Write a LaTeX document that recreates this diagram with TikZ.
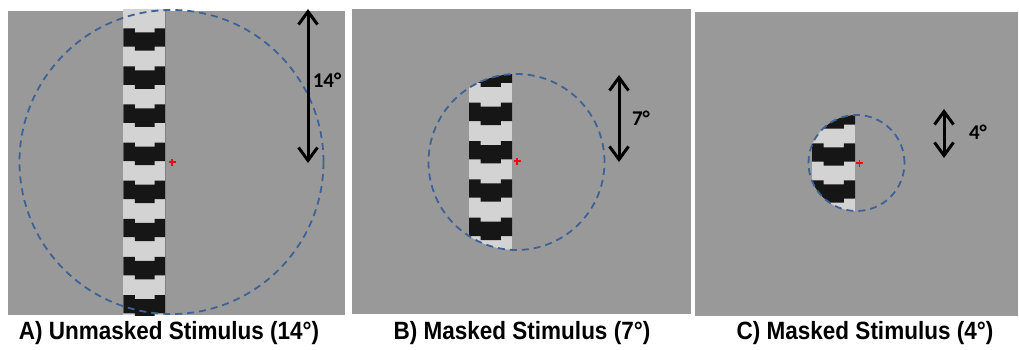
\documentclass[tikz,border=0pt]{standalone}
\usepackage{fontspec}
\setmainfont{Liberation Sans}
\newfontfamily\carl{Carlito}
\usetikzlibrary{arrows.meta}
\definecolor{panelgray}{RGB}{153,153,153}
\definecolor{stripelight}{RGB}{211,211,211}
\definecolor{stripedark}{RGB}{22,22,22}
\definecolor{ringblue}{RGB}{62,98,150}
\definecolor{fixred}{RGB}{240,10,10}
\tikzset{
  panel/.style={fill=panelgray, draw=none, inner sep=0pt, anchor=north west},
  ring/.style={draw=ringblue, line width=1.8pt, dash pattern=on 7pt off 5pt},
  sizearrow/.style={draw=black, line width=3pt,
     {Straight Barb[length=13pt,width=19pt,line width=3pt]}-{Straight Barb[length=13pt,width=19pt,line width=3pt]}},
  fixmark/.style={draw=fixred, line width=1.3pt},
  anglelabel/.style={font=\carl\bfseries\fontsize{21}{24}\selectfont, inner sep=0pt},
  caption/.style={font=\bfseries\fontsize{25}{28}\selectfont, inner sep=0pt, xscale=0.9},
}
% black block: #1 left, #2 width, #3 top
\newcommand\blk[3]{%
  \fill[stripedark] (#1,#3) -- ++({0.27*#2},0) -- ++(0,4) -- ++({0.47*#2},0) -- ++(0,-4)
    -- ++({0.26*#2},0) -- ++(0,18.4) -- ++({-0.26*#2},0) -- ++(0,4) -- ++({-0.47*#2},0)
    -- ++(0,-4) -- ++({-0.27*#2},0) -- cycle;}
\newcommand\fixcross[1]{%
  \draw[fixmark] ([xshift=-3.5pt]#1) -- ([xshift=3.5pt]#1);
  \draw[fixmark] ([yshift=-3.5pt]#1) -- ([yshift=3.5pt]#1);}
\begin{document}
\begin{tikzpicture}[x=1pt,y=-1pt]
\useasboundingbox (0,0) rectangle (1019,350);
\fill[white] (0,0) rectangle (1019,350);
% panels
\node[panel, minimum width=337pt, minimum height=304pt] (panelA) at (8,11) {};
\node[panel, minimum width=339pt, minimum height=305pt] (panelB) at (352,9) {};
\node[panel, minimum width=323pt, minimum height=304pt] (panelC) at (695,12) {};
% centres
\coordinate (cA) at (171.5,162);
\coordinate (cB) at (516.5,162);
\coordinate (cC) at (856.5,163);
% panel A stimulus (unmasked)
\begin{scope}
  \clip (8,9) rectangle (345,315);
  \fill[stripelight] (123.3,9) rectangle (165.7,315);
  \foreach \k in {0,...,7} {\pgfmathsetmacro\t{28.3+38.1*\k}\blk{123.3}{42.4}{\t}}
  \draw[gray, line width=0.6pt] (165.7,9) -- (165.7,315);
\end{scope}
% panel B stimulus (masked)
\begin{scope}
  \clip (cB) circle[radius=88pt];
  \fill[stripelight] (469,60) rectangle (512,260);
  \foreach \k in {-1,...,3} {\pgfmathsetmacro\t{102.7+38.3*\k}\blk{469}{43}{\t}}
\end{scope}
% panel C stimulus (masked)
\begin{scope}
  \clip (cC) circle[radius=48pt];
  \fill[stripelight] (812,105) rectangle (855,220);
  \foreach \k in {-1,...,1} {\pgfmathsetmacro\t{143.3+37*\k}\blk{812}{43}{\t}}
\end{scope}
% dashed rings
\draw[ring] (cA) circle[radius=152pt];
\draw[ring] (cB) circle[radius=88pt];
\draw[ring] (cC) circle[radius=48pt];
% fixation crosses
\coordinate (fA) at (172,162);
\coordinate (fB) at (517,161);
\coordinate (fC) at (859.5,163);
\fixcross{fA}
\fixcross{fB}
\fixcross{fC}
% size arrows
\coordinate (aAt) at (308,9);
\coordinate (aAb) at (308,163);
\coordinate (aBt) at (619,75);
\coordinate (aBb) at (619,162);
\coordinate (aCt) at (944,109);
\coordinate (aCb) at (944,158);
\draw[sizearrow] (aAt) -- (aAb);
\draw[sizearrow] (aBt) -- (aBb);
\draw[sizearrow] (aCt) -- (aCb);
\node[anglelabel] (labA) at (327,80) {14°};
\node[anglelabel] (labB) at (641,118) {7°};
\node[anglelabel] (labC) at (978,132) {4°};
% captions
\node[caption] (capA) at (169,333) {A) Unmasked Stimulus (14°)};
\node[caption] (capB) at (522,333) {B) Masked Stimulus (7°)};
\node[caption] (capC) at (865,333) {C) Masked Stimulus (4°)};
\end{tikzpicture}
\end{document}
